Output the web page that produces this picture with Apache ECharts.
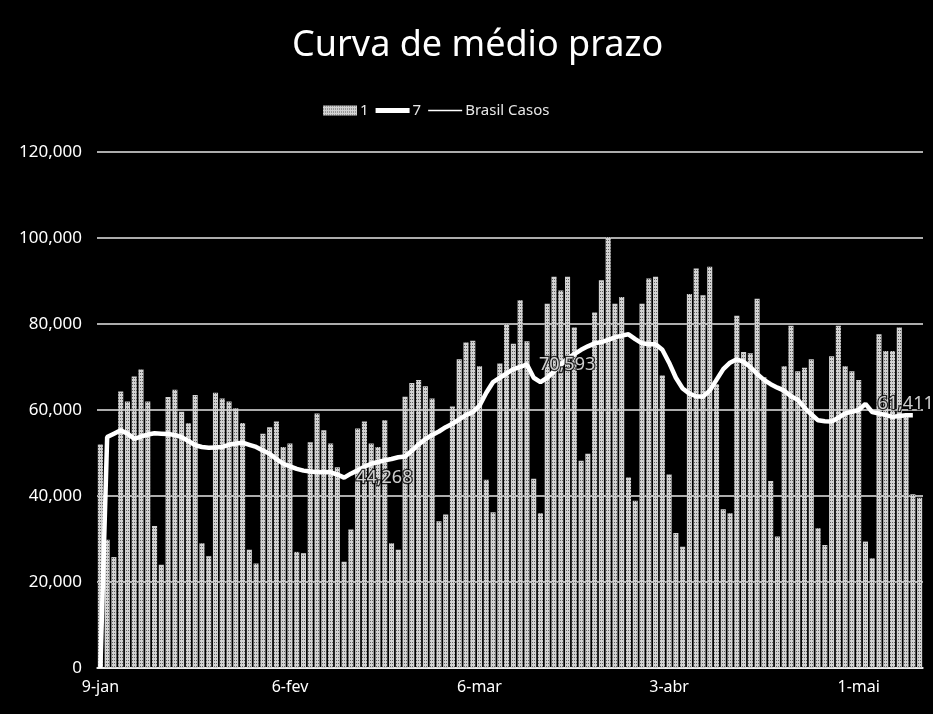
<!DOCTYPE html>
<html>
<head>
<meta charset="utf-8">
<script src="https://cdn.jsdelivr.net/npm/echarts@6/dist/echarts.min.js"></script>
<style>
  html, body { margin: 0; padding: 0; background: #000; }
  #chart { width: 933px; height: 714px; }
</style>
</head>
<body>
<div id="chart"></div>
<script>
// Daily new COVID-19 cases in Brazil, 9 Jan – 10 May 2021
const startDate = { year: 2021, month: 0, day: 9 };
const dayCount = 122;
const monthNames = ['jan', 'fev', 'mar', 'abr', 'mai', 'jun'];
const tickLabels = ['9-jan', '6-fev', '6-mar', '3-abr', '1-mai'];

// series "1": daily cases
const dailyCases = [
  52000, 29800, 25800, 64300, 62000, 67800, 69400, 62000, 33000, 24000,
  63000, 64700, 59600, 56900, 63500, 29000, 26000, 64000, 62700, 62000,
  60400, 57000, 27500, 24300, 54500, 56000, 57300, 51400, 52200, 27000,
  26700, 52500, 59200, 55300, 52200, 46700, 24700, 32200, 55700, 57300,
  52200, 51400, 57600, 29000, 27500, 63100, 66300, 67000, 65500, 62700,
  34100, 35700, 60800, 71800, 75700, 76100, 70200, 43800, 36200, 70800,
  79900, 75400, 85500, 76000, 44000, 36000, 84700, 91000, 87800, 91000,
  79200, 48200, 49800, 82700, 90200, 100200, 84700, 86300, 44300, 38900,
  84700, 90600, 91000, 68000, 45000, 31400, 28200, 87000, 92900, 86700,
  93300, 66000, 36900, 36000, 81900, 73500, 73200, 85900, 67600, 43500,
  30600, 70200, 79600, 69000, 69800, 71800, 32500, 28600, 72500, 79600,
  70200, 69000, 67000, 29400, 25500, 77600, 73700, 73700, 79200, 59000,
  40400, 39600
];

// series "7": 7-day moving average
const movingAvg7 = [
  0, 53700, 54500, 55300, 54500, 53300, 53800, 54300, 54600, 54500,
  54400, 54200, 53700, 52800, 51800, 51400, 51200, 51300, 51400, 51900,
  52200, 52400, 51900, 51400, 50600, 49800, 48600, 47500, 46900, 46300,
  45900, 45700, 45500, 45600, 45500, 45000, 44268, 45200, 46000, 46800,
  47500, 47900, 48300, 48600, 49000, 49200, 50500, 52000, 53200, 54200,
  55000, 56000, 56800, 57800, 58800, 59500, 61000, 64000, 66500, 67500,
  68500, 69500, 70000, 70593, 67500, 66500, 67500, 69000, 70500, 72000,
  73000, 74000, 74800, 75500, 75800, 76300, 76900, 77300, 77600, 76500,
  75500, 75300, 75300, 74000, 71000, 67500, 65000, 63800, 63200, 63100,
  64500, 67000, 69500, 71000, 71800, 71200, 70000, 68400, 67000, 66000,
  65200, 64500, 63200, 62400, 60500, 59000, 57600, 57400, 57300, 58200,
  59200, 59600, 60000, 61411, 59500, 59200, 58800, 58400, 58600, 58800,
  58800, null
];

// points of the moving average that carry a value label
const labelledDays = [36, 63, 113];

// series "Brasil Casos" (legend entry only)
const brasilCasos = [];

const yMin = 0, yMax = 120000, yStep = 20000;

function buildCategories() {
  const out = [];
  const d = new Date(Date.UTC(startDate.year, startDate.month, startDate.day));
  for (let i = 0; i < dayCount; i++) {
    out.push(d.getUTCDate() + '-' + monthNames[d.getUTCMonth()]);
    d.setUTCDate(d.getUTCDate() + 1);
  }
  return out;
}
const categories = buildCategories();

const fmt = v => String(v).replace(/\B(?=(\d{3})+(?!\d))/g, ',');
const uiFont = 'Noto Sans';

// value labels ride on an invisible scatter layer placed on the average line
const avgLabelPoints = labelledDays.map(i => [categories[i], movingAvg7[i]]);

const chart = echarts.init(document.getElementById('chart'), null, { renderer: 'canvas' });
chart.setOption({
  backgroundColor: '#000',
  animation: false,
  title: {
    text: 'Curva de médio prazo',
    left: 287,
    top: 23,
    textStyle: { color: '#fff', fontFamily: uiFont, fontSize: 36, fontWeight: 'normal' }
  },
  legend: {
    top: 98,
    left: 318,
    itemGap: 7,
    itemWidth: 34,
    itemHeight: 10,
    symbolKeepAspect: true,
    textStyle: { color: '#e8e8e8', fontFamily: uiFont, fontSize: 15, padding: [0, 0, 0, -2] },
    data: [
      { name: '1', icon: 'rect' },
      { name: '7', icon: 'path://M0,0H30V4.5H0Z' },
      { name: 'Brasil Casos', icon: 'path://M0,0H30V1.2H0Z' }
    ]
  },
  grid: { left: 97, right: 10, top: 152, bottom: 46, containLabel: false },
  xAxis: {
    type: 'category',
    data: categories,
    boundaryGap: true,
    axisLine: { show: true, lineStyle: { color: '#fff', width: 1.5 } },
    axisTick: { show: false },
    axisLabel: {
      interval: 0,
      color: '#fff',
      fontFamily: uiFont,
      fontSize: 16,
      margin: 11,
      formatter: v => tickLabels.includes(v) ? v : ''
    },
    splitLine: { show: false }
  },
  yAxis: {
    type: 'value',
    min: yMin,
    max: yMax,
    interval: yStep,
    axisLine: { show: false },
    axisTick: { show: false },
    axisLabel: { color: '#fff', fontFamily: uiFont, fontSize: 17, margin: 15, formatter: fmt },
    splitLine: { lineStyle: { color: '#e6e6e6', width: 1.5 } }
  },
  series: [
    {
      name: '1',
      type: 'bar',
      data: dailyCases,
      barCategoryGap: '25%',
      itemStyle: {
        color: '#d2d2d2',
        decal: {
          symbol: 'rect',
          symbolSize: 1,
          color: 'rgba(0,0,0,0.55)',
          dashArrayX: [1, 1],
          dashArrayY: [1, 2],
          rotation: 0
        }
      }
    },
    {
      name: '7',
      type: 'line',
      data: movingAvg7,
      symbol: 'none',
      smooth: false,
      connectNulls: false,
      lineStyle: { color: '#fff', width: 4.5 },
      itemStyle: { color: '#fff' },
      z: 5
    },
    {
      name: 'Brasil Casos',
      type: 'line',
      data: brasilCasos,
      symbol: 'none',
      lineStyle: { color: '#fff', width: 1.5 },
      itemStyle: { color: '#fff' }
    },
    {
      name: 'avgLabels',
      type: 'scatter',
      data: avgLabelPoints,
      symbolSize: 0,
      silent: true,
      z: 6,
      label: {
        show: true,
        position: 'right',
        distance: 12,
        color: '#fff',
        fontFamily: uiFont,
        fontSize: 18,
        textBorderColor: '#000',
        textBorderWidth: 2.5,
        formatter: p => fmt(p.value[1])
      }
    }
  ]
});
</script>
</body>
</html>
